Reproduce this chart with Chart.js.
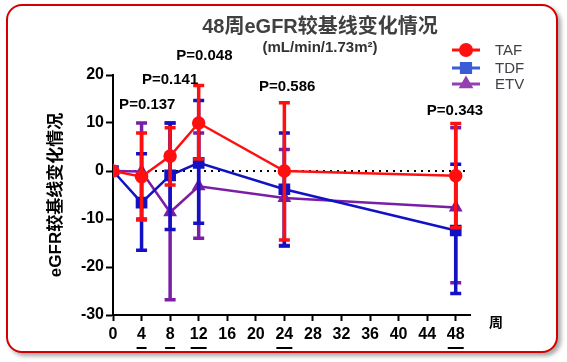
<!DOCTYPE html>
<html lang="zh">
<head>
    <meta charset="UTF-8">
    <title>48周eGFR较基线变化情况</title>
    <style>
        body {
            margin: 0;
            background: #fff;
        }
        .frame {
            position: absolute;
            left: 6px;
            top: 4px;
            width: 548px;
            height: 345px;
            border: 2.5px solid #d40000;
            border-radius: 16px;
            box-shadow: 3px 3px 4px rgba(0, 0, 0, 0.35);
            background: #fff;
        }
        canvas {
            position: absolute;
            left: 0;
            top: 0;
        }
    </style>
    <script src="https://cdn.jsdelivr.net/npm/chart.js"></script>
</head>
<body>
    <div class="frame"></div>
    <canvas id="egfr-chart" width="567" height="362"></canvas>

    <script>
        // 周数
        const weeks = [0, 4, 8, 12, 24, 48];
        const xTicks = [0, 4, 8, 12, 16, 20, 24, 28, 32, 36, 40, 44, 48];
        const yTicks = [-30, -20, -10, 0, 10, 20];
        const underlinedWeeks = [4, 8, 12, 24, 48];

        // 均值 + 误差线上下端
        const tafMean  = [0, -1.2, 3.1, 10, 0, -1.0];
        const tafUpper = [null, 7.9, 9.0, 17.8, 14.2, 9.9];
        const tafLower = [null, -10.2, -2.9, 2.5, -14.4, -11.8];

        const tdfMean  = [0, -6.6, -0.9, 1.7, -3.8, -12.4];
        const tdfUpper = [null, 3.6, 10, 14.7, 7.9, 1.4];
        const tdfLower = [null, -16.5, -12.2, -10.9, -15.6, -25.5];

        const etvMean  = [0, -0.1, -8.6, -3.2, -5.6, -7.6];
        const etvUpper = [null, 10, 10, 7.9, 4.5, 9.0];
        const etvLower = [null, -10, -26.8, -14, -15.5, -23.3];

        // P 值标注
        const pLabels = ['P=0.137', 'P=0.141', 'P=0.048', 'P=0.586', 'P=0.343'];
        const pWeeks  = [4.8, 8, 12.8, 24.4, 47.9];
        const pValues = [13.8, 19, 24, 17.5, 12.6];

        const RED = '#ff1010';
        const BLUE = '#1212c4';
        const PURPLE = '#7a1ea6';
        const FONT = 'Arial, "Liberation Sans", "Noto Sans CJK SC", sans-serif';

        function toPoints(mean) {
            return weeks.map((w, i) => ({ x: w, y: mean[i] }));
        }

        const errorBars = [
            { upper: tafUpper, lower: tafLower, color: RED },
            { upper: tdfUpper, lower: tdfLower, color: BLUE },
            { upper: etvUpper, lower: etvLower, color: PURPLE }
        ];

        const errorBarPlugin = {
            id: 'errorBars',
            beforeDatasetsDraw(chart) {
                // 0 基线（点线）
                const ctx = chart.ctx;
                const xs = chart.scales.x, ys = chart.scales.y;
                ctx.save();
                ctx.strokeStyle = '#000';
                ctx.lineWidth = 2;
                ctx.setLineDash([2, 5]);
                ctx.beginPath();
                ctx.moveTo(xs.getPixelForValue(0), ys.getPixelForValue(0));
                ctx.lineTo(xs.right, ys.getPixelForValue(0));
                ctx.stroke();
                ctx.restore();
            },
            beforeDatasetDraw(chart, args) {
                const bar = errorBars[args.index];
                if (!bar) return;
                const ctx = chart.ctx;
                const xs = chart.scales.x, ys = chart.scales.y;
                ctx.save();
                ctx.strokeStyle = bar.color;
                ctx.lineWidth = 3.5;
                weeks.forEach((w, i) => {
                    if (bar.upper[i] === null) return;
                    const x = xs.getPixelForValue(w);
                    const yt = ys.getPixelForValue(bar.upper[i]);
                    const yb = ys.getPixelForValue(bar.lower[i]);
                    ctx.beginPath();
                    ctx.moveTo(x, yt);
                    ctx.lineTo(x, yb);
                    ctx.moveTo(x - 5.5, yt);
                    ctx.lineTo(x + 5.5, yt);
                    ctx.moveTo(x - 5.5, yb);
                    ctx.lineTo(x + 5.5, yb);
                    ctx.stroke();
                });
                ctx.restore();
            }
        };

        const annotationPlugin = {
            id: 'annotations',
            afterDraw(chart) {
                const ctx = chart.ctx;
                const xs = chart.scales.x, ys = chart.scales.y;
                ctx.save();
                ctx.textBaseline = 'middle';

                // 标题
                ctx.textAlign = 'center';
                ctx.fillStyle = '#404040';
                ctx.font = 'bold 20px ' + FONT;
                ctx.fillText('48周eGFR较基线变化情况', 320, 27);
                ctx.fillStyle = '#333';
                ctx.font = 'bold 15px ' + FONT;
                ctx.fillText('(mL/min/1.73m²)', 320, 48);

                // P 值
                ctx.fillStyle = '#000';
                ctx.font = 'bold 15px ' + FONT;
                pLabels.forEach((t, i) => {
                    ctx.fillText(t, xs.getPixelForValue(pWeeks[i]), ys.getPixelForValue(pValues[i]));
                });

                // y 轴标题
                ctx.save();
                ctx.translate(56, 195);
                ctx.rotate(-Math.PI / 2);
                ctx.font = 'bold 17px ' + FONT;
                ctx.fillText('eGFR较基线变化情况', 0, 0);
                ctx.restore();

                // x 轴单位
                ctx.font = 'bold 14px ' + FONT;
                ctx.fillText('周', 496, 323);

                // 刻度下划线
                ctx.strokeStyle = '#000';
                ctx.lineWidth = 2;
                underlinedWeeks.forEach(w => {
                    const x = xs.getPixelForValue(w);
                    const half = w >= 10 ? 8 : 5;
                    ctx.beginPath();
                    ctx.moveTo(x - half, 348);
                    ctx.lineTo(x + half, 348);
                    ctx.stroke();
                });

                // 图例
                const legend = [
                    ['TAF', RED, 'circle', 50],
                    ['TDF', '#3a5cd6', 'rect', 68],
                    ['ETV', '#9440b0', 'triangle', 84]
                ];
                ctx.textAlign = 'left';
                ctx.font = '15px ' + FONT;
                legend.forEach(([name, color, shape, y]) => {
                    ctx.strokeStyle = color;
                    ctx.fillStyle = color;
                    ctx.lineWidth = 3;
                    ctx.beginPath();
                    ctx.moveTo(452, y);
                    ctx.lineTo(480, y);
                    ctx.stroke();
                    Chart.helpers.drawPoint(ctx, { pointStyle: shape, radius: shape === 'rect' ? 6.5 : 5.5, borderWidth: 1 }, 466, y);
                    ctx.fill();
                    ctx.fillStyle = '#404048';
                    ctx.fillText(name, 495, y + 1);
                });
                ctx.restore();
            }
        };

        const ctx = document.getElementById('egfr-chart').getContext('2d');
        new Chart(ctx, {
            type: 'line',
            data: {
                datasets: [
                    {
                        label: 'TAF',
                        data: toPoints(tafMean),
                        borderColor: RED,
                        backgroundColor: RED,
                        borderWidth: 2.5,
                        pointStyle: 'circle',
                        pointRadius: 5.5,
                        order: 0
                    },
                    {
                        label: 'TDF',
                        data: toPoints(tdfMean),
                        borderColor: BLUE,
                        backgroundColor: BLUE,
                        borderWidth: 2.5,
                        pointStyle: 'rect',
                        pointRadius: 6.5,
                        order: 1
                    },
                    {
                        label: 'ETV',
                        data: toPoints(etvMean),
                        borderColor: PURPLE,
                        backgroundColor: PURPLE,
                        borderWidth: 2.5,
                        pointStyle: 'triangle',
                        pointRadius: 5.5,
                        order: 2
                    }
                ]
            },
            options: {
                responsive: false,
                animation: false,
                layout: { padding: { left: 0, top: 75, right: 97, bottom: 0 } },
                plugins: {
                    legend: { display: false },
                    tooltip: { enabled: false }
                },
                scales: {
                    x: {
                        type: 'linear',
                        min: 0,
                        max: 50,
                        afterBuildTicks(scale) {
                            scale.ticks = xTicks.map(v => ({ value: v }));
                        },
                        afterFit(scale) {
                            scale.height = 47;
                        },
                        grid: {
                            drawOnChartArea: false,
                            drawTicks: true,
                            tickLength: 6,
                            tickWidth: 2,
                            color: '#000'
                        },
                        border: { color: '#000', width: 2 },
                        ticks: {
                            color: '#000',
                            padding: 4,
                            maxRotation: 0,
                            autoSkip: false,
                            font: { family: FONT, size: 16, weight: 'bold' }
                        }
                    },
                    y: {
                        min: -30,
                        max: 20,
                        afterBuildTicks(scale) {
                            scale.ticks = yTicks.map(v => ({ value: v }));
                        },
                        afterFit(scale) {
                            scale.width = 113;
                        },
                        grid: {
                            drawOnChartArea: false,
                            drawTicks: true,
                            tickLength: 7,
                            tickWidth: 2,
                            color: '#000'
                        },
                        border: { color: '#000', width: 2 },
                        ticks: {
                            color: '#000',
                            padding: 2,
                            font: { family: FONT, size: 16, weight: 'bold' }
                        }
                    }
                }
            },
            plugins: [errorBarPlugin, annotationPlugin]
        });
    </script>
</body>
</html>
